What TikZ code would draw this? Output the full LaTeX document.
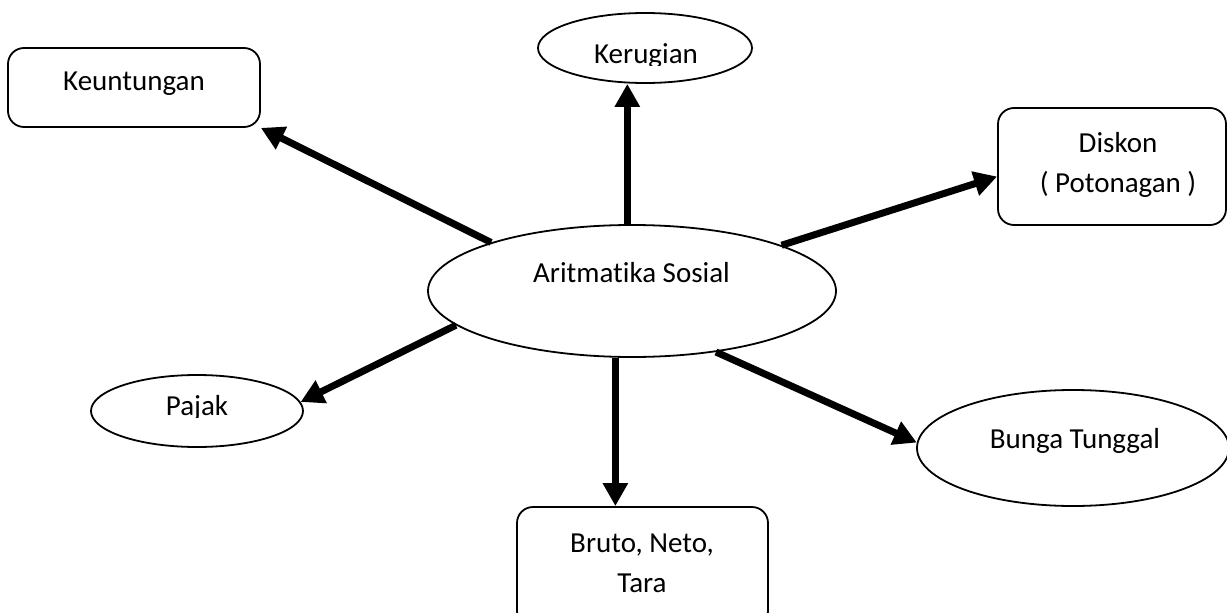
\documentclass[tikz,border=0pt]{standalone}
\usepackage{fontspec}
\setmainfont[Ligatures=NoCommon]{Carlito}
\usetikzlibrary{arrows.meta,shapes.geometric}
\begin{document}
\begin{tikzpicture}[x=1pt,y=-1pt,
  shp/.style={draw,line width=1.8pt,inner sep=0pt},
  ell/.style={shp,ellipse,fill=white},
  box/.style={shp,rectangle,rounded corners=16pt},
  lbl/.style={font=\fontsize{29}{39.5}\selectfont,inner sep=0pt,anchor=base,align=center},
  arr/.style={line width=7pt,-{Triangle[length=23pt,width=24pt]}}]
\useasboundingbox (0,0) rectangle (1227,613);
\clip (0,0) rectangle (1227,613);
% shapes
\node[ell,minimum width=408pt,minimum height=132pt] (ar) at (632,291) {};
\node[ell,minimum width=214pt,minimum height=70pt] (ker) at (645,48) {};
\node[ell,minimum width=212pt,minimum height=72pt] (paj) at (197,411) {};
\node[ell,minimum width=312pt,minimum height=116pt] (bun) at (1073,448) {};
\node[box,minimum width=252pt,minimum height=79pt] (keu) at (134,87.5) {};
\node[box,minimum width=228pt,minimum height=117pt] (dis) at (1112,166.5) {};
\node[box,minimum width=251pt,minimum height=120pt] (bru) at (642.5,567) {};
% arrows
\draw[arr] (ar.161.7) -- (keu.south east);
\draw[arr] (ar.94.5) -- (ar.94.5 |- ker.south);
\draw[arr] (ar.17.4) -- (dis.185.7);
\draw[arr] (ar.191.7) -- (paj.5.8);
\draw[arr] (ar.256.4) -- (ar.256.4 |- bru.north);
\draw[arr] (ar.-36.7) -- (bun.178.2);
% texts
\begin{scope}
\clip (540,0) rectangle (750,65);
\node[lbl] (ker-t) at (646,63) {Kerugian};
\end{scope}
\begin{scope}
\clip (90,380) rectangle (300,417);
\node[lbl] (paj-t) at (197,415) {Pajak};
\end{scope}
\node[lbl] (keu-t) at (134,90) {Keuntungan};
\node[lbl] (dis-t) at (1118,192) {Diskon\\( Potonagan )};
\node[lbl] (ar-t) at (631.5,282) {Aritmatika Sosial};
\node[lbl] (bun-t) at (1075,448) {Bunga Tunggal};
\node[lbl] (bru-t) at (642,592) {Bruto, Neto,\\Tara};
\end{tikzpicture}
\end{document}
